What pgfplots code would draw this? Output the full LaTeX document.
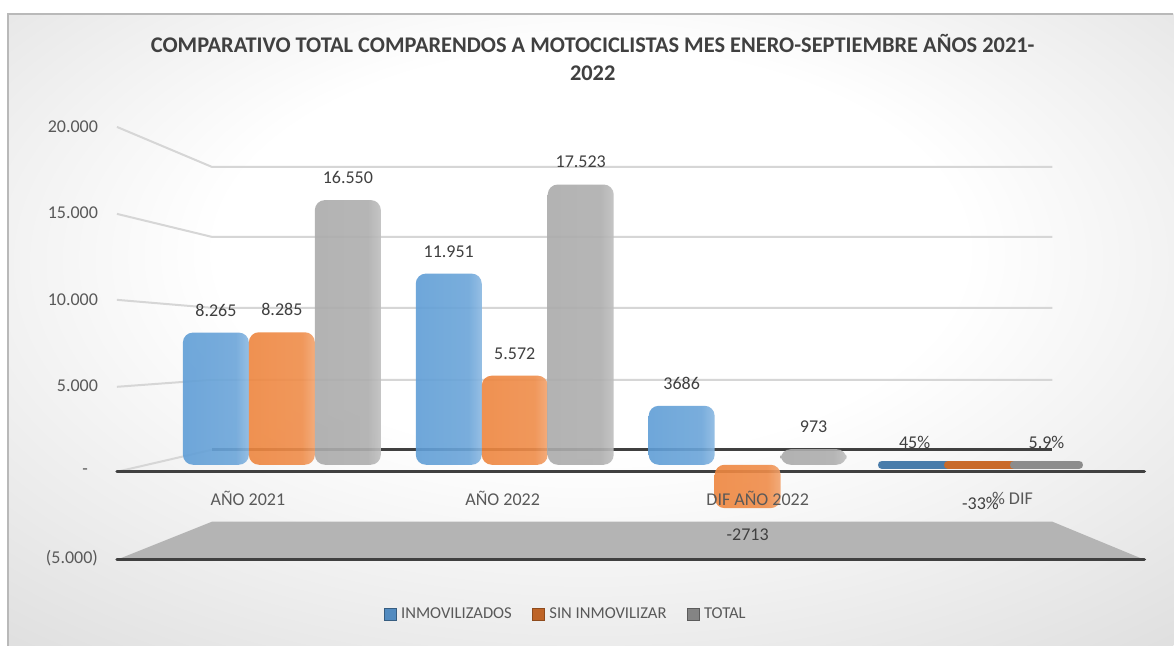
\documentclass[border=0pt]{standalone}
\usepackage{pgfplots}
\pgfplotsset{compat=1.18}
\usepackage{fontspec}
\setmainfont{Carlito}
\definecolor{txt}{HTML}{595959}
\definecolor{ttl}{HTML}{404040}
\definecolor{cblue}{HTML}{5B9BD5}
\definecolor{corange}{HTML}{ED7D31}
\definecolor{cgray}{HTML}{A5A5A5}
\definecolor{lineclr}{HTML}{404040}
\definecolor{gridclr}{HTML}{D6D6D6}
\definecolor{floorclr}{HTML}{B4B4B4}
\pgfdeclarehorizontalshading{shblue}{100bp}{color(0bp)=(cblue!85!black); color(10bp)=(cblue); color(65bp)=(cblue!90!white); color(78bp)=(cblue!65!white); color(90bp)=(cblue); color(100bp)=(cblue!75!black)}
\pgfdeclarehorizontalshading{shorange}{100bp}{color(0bp)=(corange!85!black); color(10bp)=(corange!95!white); color(65bp)=(corange!88!white); color(78bp)=(corange!65!white); color(90bp)=(corange!95!white); color(100bp)=(corange!75!black)}
\pgfdeclarehorizontalshading{shgray}{100bp}{color(0bp)=(cgray!85!black); color(10bp)=(cgray!95!white); color(65bp)=(cgray!90!white); color(78bp)=(cgray!65!white); color(90bp)=(cgray!95!white); color(100bp)=(cgray!75!black)}
\pgfdeclareradialshading{bgsh}{\pgfpoint{0bp}{8bp}}{color(0bp)=(white); color(16bp)=(white); color(50bp)=(gray!38); color(72bp)=(gray!48)}
\pgfplotsset{
  barbase/.style={ybar, bar width=33bp, draw=none, fill opacity=0.9, rounded corners=5bp,
    nodes near coords, point meta=explicit symbolic},
  bl/.style={barbase, bar shift=-33bp, shading=shblue,
    every node near coord/.append style={xshift=-33bp}},
  or/.style={barbase, bar shift=0bp, shading=shorange},
  orneg/.style={barbase, bar shift=0bp, shading=shorange, nodes near coords align=below},
  gr/.style={barbase, bar shift=33bp, shading=shgray,
    every node near coord/.append style={xshift=33bp}},
  flatbar/.style={ybar, forget plot, bar width=33bp, line width=4bp, line join=round, sharp corners},
}
\begin{document}
\begin{tikzpicture}
\begin{scope}[x=0.5bp,y=0.5bp]
% canvas and background
\fill[white] (0,0) rectangle (1174,646);
\shade[shading=bgsh] (8,0) rectangle (1174,632);
\draw[gray!55, line width=0.6bp] (8,0) -- (8,632) -- (1174,632);
% title
\node[font=\bfseries\fontsize{11.2bp}{14.5bp}\selectfont, text=ttl, align=center] at (593,588.5)
  {COMPARATIVO TOTAL COMPARENDOS A MOTOCICLISTAS MES ENERO-SEPTIEMBRE AÑOS 2021-\\2022};
% floor
\fill[floorclr] (117,86) -- (212,124) -- (1053,124) -- (1145,86) -- cycle;
% back wall gridlines
\draw[gridclr, line width=1bp] (117,519) -- (212,479) -- (1053,479);
\draw[gridclr, line width=1bp] (117,432) -- (212,409) -- (1053,409);
\draw[gridclr, line width=1bp] (117,346) -- (212,338) -- (1053,338);
\draw[gridclr, line width=1bp] (117,259) -- (212,266) -- (1053,266);
\draw[gridclr, line width=1bp] (117,174) -- (212,196);
\draw[lineclr, line width=1.3bp] (212,196) -- (1053,196);
% front lines
\draw[lineclr, line width=1.6bp, line cap=round] (117,174) -- (1145,174);
\draw[lineclr, line width=1.6bp, line cap=round] (117,86) -- (1145,86);
\end{scope}
% y tick labels (front plane)
\begin{axis}[at={(58.5bp,44bp)}, anchor=south west, scale only axis,
  width=514bp, height=215.5bp, xmin=0, xmax=1, ymin=-5000, ymax=20000,
  axis line style={draw=none}, xtick=\empty, scaled y ticks=false,
  ytick={-5000,0,5000,10000,15000,20000},
  yticklabels={(5.000),{-\hspace*{5bp}},5.000,10.000,15.000,20.000},
  major tick length=0pt,
  yticklabel style={font=\fontsize{9bp}{11bp}\selectfont, text=txt, xshift=-6bp}]
\end{axis}
% bars
\begin{axis}[at={(94.4bp,50.5bp)}, anchor=south west, scale only axis,
  width=442.7bp, height=200bp, xmin=-0.4, xmax=3.4, ymin=-5000, ymax=20000,
  axis line style={draw=none}, ytick=\empty, scaled y ticks=false,
  xtick={-0.146,0.948,2.043,3.137},
  xticklabels={AÑO 2021,AÑO 2022,DIF AÑO 2022,\% DIF},
  major tick length=0pt, axis on top, clip=false,
  xticklabel style={anchor=center, yshift=23bp, font=\fontsize{9bp}{11bp}\selectfont, text=txt},
  every node near coord/.append style={font=\fontsize{9bp}{11bp}\selectfont, text=ttl, inner sep=8bp, fill opacity=1, text opacity=1},
  legend style={at={(0.427,-0.175)}, anchor=center, draw=none, fill=none,
    font=\fontsize{8.3bp}{10bp}\selectfont, text=txt,
    /tikz/every even column/.append style={column sep=8bp}},
  legend columns=3,
  legend image code/.code={\filldraw[#1] (0bp,-3bp) rectangle (6bp,3bp);},
  legend entries={INMOVILIZADOS,SIN INMOVILIZAR,TOTAL},
]
\addlegendimage{fill=cblue!90!black, draw=cblue!60!black, line width=0.8bp}
\addlegendimage{fill=corange!80!black, draw=corange!60!black, line width=0.8bp}
\addlegendimage{fill=cgray!80!black, draw=cgray!55!black, line width=0.8bp}
% INMOVILIZADOS
\addplot[bl] coordinates {(0,8265)[8.265]};
\addplot[bl] coordinates {(1,11951)[11.951]};
\addplot[bl] coordinates {(2,3686)[3686]};
\addplot[bl] coordinates {(3,0.45)[45\%]};
% SIN INMOVILIZAR
\addplot[or] coordinates {(0,8285)[8.285]};
\addplot[or] coordinates {(1,5572)[5.572]};
\addplot[orneg, every node near coord/.append style={yshift=-2bp}] coordinates {(2,-2713)[-2713]};
\addplot[orneg, every node near coord/.append style={yshift=-8bp}] coordinates {(3,-0.33)[-33\%]};
% TOTAL
\addplot[gr] coordinates {(0,16550)[16.550]};
\addplot[gr] coordinates {(1,17523)[17.523]};
\addplot[gr] coordinates {(2,973)[973]};
\addplot[gr] coordinates {(3,0.059)[5.9\%]};
% flat % DIF bars (same values, drawn with a visible outline)
\addplot[flatbar, bar shift=-33bp, fill=cblue!80!black, draw=cblue!80!black]
  coordinates {(3,0.45)};
\addplot[flatbar, bar shift=0bp, fill=corange!85!black, draw=corange!85!black]
  coordinates {(3,-0.33)};
\addplot[flatbar, bar shift=33bp, fill=cgray!85!black, draw=cgray!85!black]
  coordinates {(3,0.059)};
\end{axis}
\end{tikzpicture}
\end{document}
